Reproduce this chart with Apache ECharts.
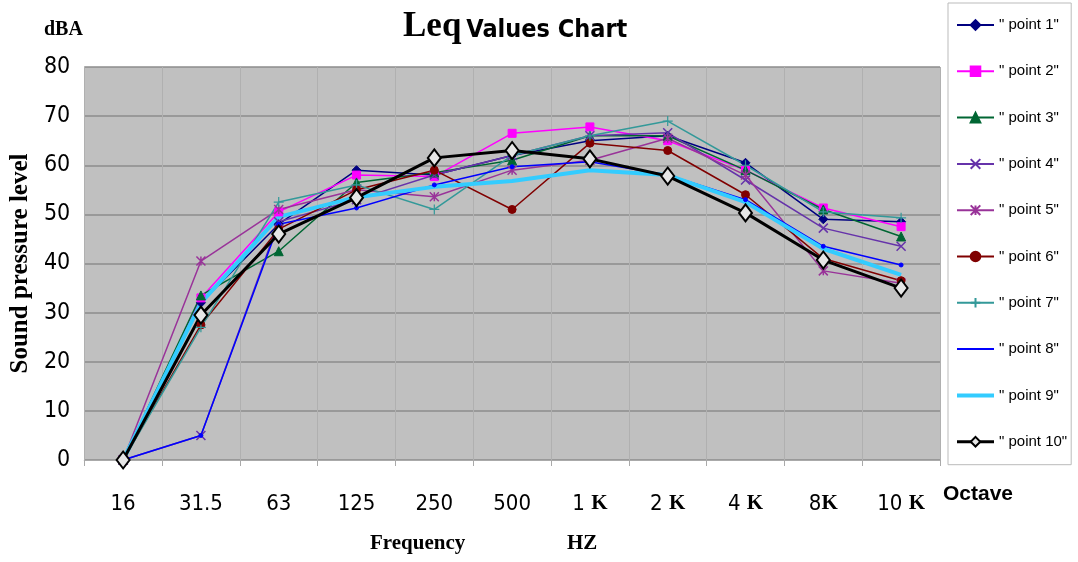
<!DOCTYPE html>
<html>
<head>
<meta charset="utf-8">
<script src="https://cdn.jsdelivr.net/npm/echarts@6/dist/echarts.min.js"></script>
<style>
  html, body { margin: 0; padding: 0; background: #fff; }
  #chart { width: 1078px; height: 562px; }
</style>
</head>
<body>
<div id="chart"></div>
<script>
const frequencies = ['16', '31.5', '63', '125', '250', '500', '1 K', '2 K', '4 K', '8K', '10 K'];

const point1 = [0, 32, 48, 59, 58, 62, 65, 66, 60.5, 49, 48.5];
const point2 = [0, 33, 50.5, 58, 57.7, 66.5, 67.8, 65, 59, 51.3, 47.5];
const point3 = [0, 33.5, 42.5, 56.5, 58.5, 61, 66, 66, 59, 51, 45.5];
const point4 = [0, 5, 48.5, 53, 58, 62, 66, 66.6, 57, 47.2, 43.5];
const point5 = [0, 40.5, 51, 55, 53.6, 59, 61, 65.5, 58, 38.5, 36];
const point6 = [0, 27.5, 47, 55, 59, 51, 64.5, 63, 54, 41, 36.5];
const point7 = [0, 27, 52.5, 56, 51, 62, 66, 69, 60, 50.5, 49.3];
const point8 = [0, 5, 48, 51.3, 56, 59.7, 60.7, 58, 53, 43.5, 39.7];
const point9 = [0, 32, 49.5, 53.5, 55.6, 56.8, 59, 58, 52.5, 43, 37.7];
const point10 = [0, 29.5, 46, 53.4, 61.5, 63, 61.3, 57.8, 50.3, 40.7, 35];

const yTicks = { min: 0, max: 80, step: 10 };

const chart = echarts.init(document.getElementById('chart'), null, { renderer: 'canvas' });

const xPath = 'path://M0,0L10,10M10,0L0,10';
const starPath = 'path://M0,0L10,10M10,0L0,10M5,0L5,10';
const plusPath = 'path://M5,0L5,10M0,5L10,5';

const mk = (name, data, color, symbol, opts) => Object.assign({
  name: name,
  type: 'line',
  data: data,
  symbol: symbol,
  symbolSize: 8,
  showSymbol: true,
  lineStyle: { color: color, width: 1.5 },
  itemStyle: { color: color, borderColor: color, borderWidth: 1 },
  emphasis: { disabled: true },
  animation: false
}, opts || {});

const series = [
  mk('" point 1"', point1, '#000080', 'diamond', { symbolSize: 9 }),
  mk('" point 2"', point2, '#ff00ff', 'rect', { symbolSize: 8 }),
  mk('" point 3"', point3, '#006633', 'triangle', { symbolSize: 9 }),
  mk('" point 4"', point4, '#6633aa', xPath, { symbolSize: 9, itemStyle: { color: 'none', borderColor: '#6633aa', borderWidth: 1.5 } }),
  mk('" point 5"', point5, '#993399', starPath, { symbolSize: 9, itemStyle: { color: 'none', borderColor: '#993399', borderWidth: 1.5 } }),
  mk('" point 6"', point6, '#800000', 'circle', { symbolSize: 8 }),
  mk('" point 7"', point7, '#339999', plusPath, { symbolSize: 10, itemStyle: { color: 'none', borderColor: '#339999', borderWidth: 1.2 } }),
  mk('" point 8"', point8, '#0000ff', 'circle', { symbolSize: 4 }),
  mk('" point 9"', point9, '#33ccff', 'circle', {
    symbolSize: 0.1,
    lineStyle: { color: '#33ccff', width: 4 },
    itemStyle: { color: '#33ccff', opacity: 0 }
  }),
  mk('" point 10"', point10, '#000000', 'diamond', {
    symbolSize: [13, 17],
    lineStyle: { color: '#000000', width: 3 },
    itemStyle: { color: '#e6e6e6', borderColor: '#000000', borderWidth: 2 }
  })
];

// legend entries, thick lines for the two averaged series
const legendData = series.map(s => {
  if (s.name === '" point 9"') return { name: s.name, lineStyle: { width: 4 } };
  if (s.name === '" point 10"') return { name: s.name, lineStyle: { width: 3 } };
  if (s.name === '" point 8"') return { name: s.name, itemStyle: { opacity: 0 } };
  return { name: s.name };
});

const narrow = "'Liberation Sans Narrow', 'DejaVu Sans Condensed', 'Liberation Sans', sans-serif";
const serif = "'Liberation Serif', 'DejaVu Serif', serif";

chart.setOption({
  backgroundColor: '#ffffff',
  animation: false,
  title: {
    text: '{a|Leq} {b|Values Chart}',
    left: 398,
    top: 4,
    textStyle: {
      rich: {
        a: { fontFamily: serif, fontWeight: 'bold', fontSize: 35, color: '#000' },
        b: { fontFamily: narrow, fontWeight: 'bold', fontSize: 25, color: '#000', padding: [8, 0, 0, 0] }
      }
    }
  },
  legend: {
    data: legendData,
    orient: 'vertical',
    left: 948,
    top: 3,
    padding: [12, 4, 13, 7],
    backgroundColor: '#ffffff',
    borderColor: '#bbbbbb',
    borderWidth: 1,
    itemWidth: 37,
    itemHeight: 12,
    itemGap: 26.3,
    textStyle: { fontFamily: "'Liberation Sans', sans-serif", fontSize: 15, color: '#000', height: 20, lineHeight: 20 }
  },
  grid: {
    left: 81,
    right: 138,
    top: 67,
    bottom: 102,
    show: true,
    backgroundColor: '#c0c0c0',
    borderWidth: 0
  },
  xAxis: {
    type: 'category',
    data: frequencies,
    boundaryGap: true,
    axisLine: { show: true, lineStyle: { color: '#aaaaaa', width: 1 } },
    axisTick: { show: true, lineStyle: { color: '#aaaaaa' }, length: 6 },
    splitLine: { show: true, lineStyle: { color: '#b0b0b0', width: 1 } },
    axisLabel: {
      interval: 0,
      margin: 33,
      fontFamily: narrow,
      fontSize: 22,
      color: '#000',
      formatter: function (v) {
        const m = v.match(/^(\d+\s?)K$/);
        return m ? m[1] + '{k|K}' : v;
      },
      rich: {
        k: { fontFamily: serif, fontWeight: 'bold', fontSize: 21, color: '#000' }
      }
    }
  },
  yAxis: {
    type: 'value',
    min: yTicks.min,
    max: yTicks.max,
    interval: yTicks.step,
    axisLine: { show: false },
    axisTick: { show: false },
    splitLine: { show: true, lineStyle: { color: '#8c8c8c', width: 1.5 } },
    axisLabel: { margin: 14, fontFamily: narrow, fontSize: 23, color: '#000' },
    name: 'Sound pressure level',
    nameLocation: 'middle',
    nameRotate: 90,
    nameGap: 45,
    nameTextStyle: { fontFamily: serif, fontWeight: 'bold', fontSize: 25, color: '#000' }
  },
  graphic: [
    { type: 'text', left: 44, top: 20, style: { text: 'dBA', font: "bold 20px 'Liberation Serif', serif", fill: '#000' } },
    { type: 'text', left: 943, top: 484, style: { text: 'Octave', font: "bold 21px 'Liberation Sans Narrow', 'Liberation Sans', sans-serif", fill: '#000' } },
    { type: 'text', left: 370, top: 533, style: { text: 'Frequency', font: "bold 21px 'Liberation Serif', serif", fill: '#000' } },
    { type: 'text', left: 567, top: 533, style: { text: 'HZ', font: "bold 21px 'Liberation Serif', serif", fill: '#000' } }
  ],
  series: series
});
</script>
</body>
</html>
